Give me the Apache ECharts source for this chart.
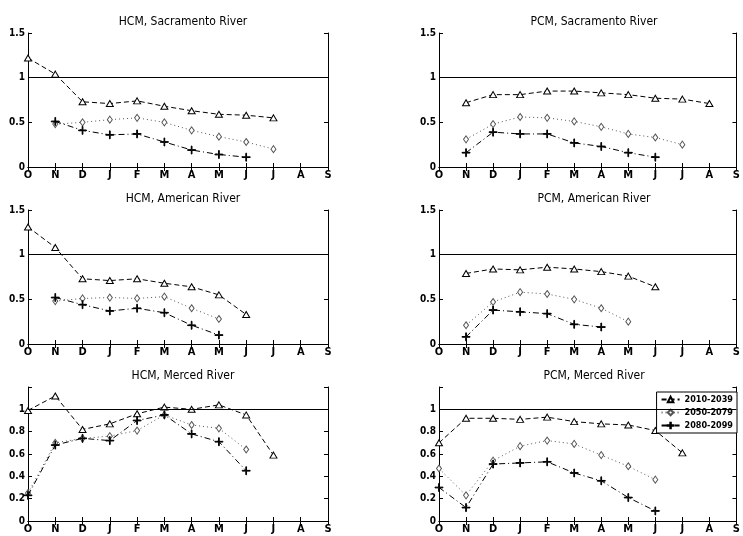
<!DOCTYPE html>
<html>
<head>
<meta charset="utf-8">
<script src="https://cdn.jsdelivr.net/npm/echarts@6/dist/echarts.min.js"></script>
<style>
  html, body { margin: 0; padding: 0; background: #fff; }
  #chart { width: 743px; height: 536px; }
</style>
</head>
<body>
<div id="chart"></div>
<script>
// Months, water year order
const months = ['O', 'N', 'D', 'J', 'F', 'M', 'A', 'M', 'J', 'J', 'A', 'S'];
const seriesNames = ['2010-2039', '2050-2079', '2080-2099'];
const titles = [
    'HCM, Sacramento River', 'PCM, Sacramento River',
    'HCM, American River', 'PCM, American River',
    'HCM, Merced River', 'PCM, Merced River'
];

// HCM, Sacramento River
const hcmSacEarly = [1.22, 1.04, 0.73, 0.71, 0.74, 0.68, 0.63, 0.59, 0.58, 0.55, null, null];
const hcmSacMid   = [null, 0.48, 0.50, 0.53, 0.55, 0.50, 0.41, 0.34, 0.28, 0.20, null, null];
const hcmSacLate  = [null, 0.51, 0.41, 0.36, 0.37, 0.28, 0.19, 0.14, 0.11, null, null, null];
// PCM, Sacramento River
const pcmSacEarly = [null, 0.72, 0.81, 0.81, 0.85, 0.85, 0.83, 0.81, 0.77, 0.76, 0.71, null];
const pcmSacMid   = [null, 0.31, 0.48, 0.56, 0.55, 0.51, 0.45, 0.37, 0.33, 0.25, null, null];
const pcmSacLate  = [null, 0.16, 0.39, 0.37, 0.37, 0.27, 0.23, 0.16, 0.11, null, null, null];
// HCM, American River
const hcmAmeEarly = [1.31, 1.08, 0.73, 0.71, 0.73, 0.68, 0.64, 0.55, 0.33, null, null, null];
const hcmAmeMid   = [null, 0.48, 0.51, 0.52, 0.51, 0.53, 0.40, 0.28, null, null, null, null];
const hcmAmeLate  = [null, 0.52, 0.44, 0.37, 0.40, 0.35, 0.21, 0.10, null, null, null, null];
// PCM, American River
const pcmAmeEarly = [null, 0.79, 0.84, 0.83, 0.86, 0.84, 0.81, 0.76, 0.64, null, null, null];
const pcmAmeMid   = [null, 0.21, 0.47, 0.58, 0.56, 0.50, 0.40, 0.25, null, null, null, null];
const pcmAmeLate  = [null, 0.08, 0.38, 0.36, 0.34, 0.22, 0.19, null, null, null, null, null];
// HCM, Merced River
const hcmMerEarly = [0.99, 1.12, 0.82, 0.87, 0.96, 1.02, 1.00, 1.04, 0.95, 0.59, null, null];
const hcmMerMid   = [0.25, 0.70, 0.74, 0.76, 0.81, 0.95, 0.86, 0.83, 0.64, null, null, null];
const hcmMerLate  = [0.23, 0.68, 0.74, 0.72, 0.90, 0.95, 0.78, 0.71, 0.45, null, null, null];
// PCM, Merced River
const pcmMerEarly = [0.70, 0.92, 0.92, 0.91, 0.93, 0.89, 0.87, 0.86, 0.81, 0.61, null, null];
const pcmMerMid   = [0.47, 0.23, 0.54, 0.67, 0.72, 0.69, 0.59, 0.49, 0.37, null, null, null];
const pcmMerLate  = [0.30, 0.12, 0.51, 0.52, 0.53, 0.43, 0.36, 0.21, 0.09, null, null, null];

const panels = [
    [hcmSacEarly, hcmSacMid, hcmSacLate], [pcmSacEarly, pcmSacMid, pcmSacLate],
    [hcmAmeEarly, hcmAmeMid, hcmAmeLate], [pcmAmeEarly, pcmAmeMid, pcmAmeLate],
    [hcmMerEarly, hcmMerMid, hcmMerLate], [pcmMerEarly, pcmMerMid, pcmMerLate]
];

const chart = echarts.init(document.getElementById('chart'));

const FONT = '"Liberation Sans Narrow", "DejaVu Sans Condensed", "Liberation Sans", Arial, sans-serif';
const colLeft = [28, 439];
const rowTop = [33, 210, 387];
const plotW = 300, plotH = 134;

const plusPath = 'path://M4.55,0H5.45V4.55H10V5.45H5.45V10H4.55V5.45H0V4.55H4.55Z';
const styles = [
    { symbol: 'triangle', symbolSize: [7, 6], color: '#000', fill: '#fff', dash: [5, 3] },
    { symbol: 'diamond', symbolSize: [5, 7], color: '#555', fill: '#fff', dash: [1, 3] },
    { symbol: plusPath, symbolSize: 8, color: '#000', fill: '#000', dash: [6, 3, 1, 3] }
];

const grids = [], xAxes = [], yAxes = [], series = [], title = [];

panels.forEach((panel, i) => {
    const col = i % 2, row = Math.floor(i / 2);
    const merced = row === 2;
    grids.push({ left: colLeft[col], top: rowTop[row], width: plotW, height: plotH });
    title.push({
        text: titles[i], left: colLeft[col] + plotW / 2, top: rowTop[row] - 22, textAlign: 'center',
        textStyle: { fontFamily: FONT, fontSize: 12, fontWeight: 'normal', color: '#000' }
    });
    const axLine = { show: true, lineStyle: { color: '#000', width: 1 } };
    const tick = { show: true, inside: true, length: 4, lineStyle: { color: '#000' } };
    xAxes.push({
        type: 'category', gridIndex: i, data: months, boundaryGap: false, position: 'bottom',
        axisLine: axLine, axisTick: tick,
        axisLabel: { fontFamily: FONT, fontSize: 11, fontWeight: 'bold', color: '#000', margin: 3, interval: 0 },
        splitLine: { show: false }
    });
    xAxes.push({
        type: 'category', gridIndex: i, data: months, boundaryGap: false, position: 'top',
        axisLine: axLine, axisTick: tick, axisLabel: { show: false }, splitLine: { show: false }
    });
    const yBase = {
        type: 'value', gridIndex: i, min: 0,
        max: merced ? 1.2 : 1.5, interval: merced ? 0.2 : 0.5,
        axisLine: axLine, axisTick: tick, splitLine: { show: false }
    };
    yAxes.push(Object.assign({}, yBase, {
        position: 'left',
        axisLabel: {
            fontFamily: FONT, fontSize: 10, fontWeight: 'bold', color: '#000', margin: 3,
            formatter: v => (merced && v > 1.1) ? '' : String(Math.round(v * 10) / 10)
        }
    }));
    yAxes.push(Object.assign({}, yBase, { position: 'right', axisLabel: { show: false } }));

    panel.forEach((data, k) => {
        const st = styles[k];
        const s = {
            name: seriesNames[k], type: 'line', xAxisIndex: 2 * i, yAxisIndex: 2 * i,
            data: data, symbol: st.symbol, symbolSize: st.symbolSize, showSymbol: true,
            lineStyle: { color: st.color, width: 1, type: st.dash },
            itemStyle: { color: st.fill, borderColor: st.color, borderWidth: 1 },
            z: 3 + k, animation: false
        };
        if (k === 0) {
            s.markLine = {
                silent: true, symbol: 'none', label: { show: false },
                lineStyle: { color: '#000', width: 1, type: 'solid' },
                data: [{ yAxis: 1 }]
            };
        }
        series.push(s);
    });
});

chart.setOption({
    backgroundColor: '#fff',
    animation: false,
    title: title,
    grid: grids,
    xAxis: xAxes,
    yAxis: yAxes,
    legend: {
        data: seriesNames, orient: 'vertical', right: 6, top: 392,
        itemWidth: 18, itemHeight: 7, itemGap: 4, padding: [3, 4, 3, 4],
        backgroundColor: '#fff', borderColor: '#000', borderWidth: 1,
        textStyle: { fontFamily: FONT, fontSize: 9, fontWeight: 'bold', color: '#000' }
    },
    series: series
});

window.addEventListener('resize', () => chart.resize());
</script>
</body>
</html>
